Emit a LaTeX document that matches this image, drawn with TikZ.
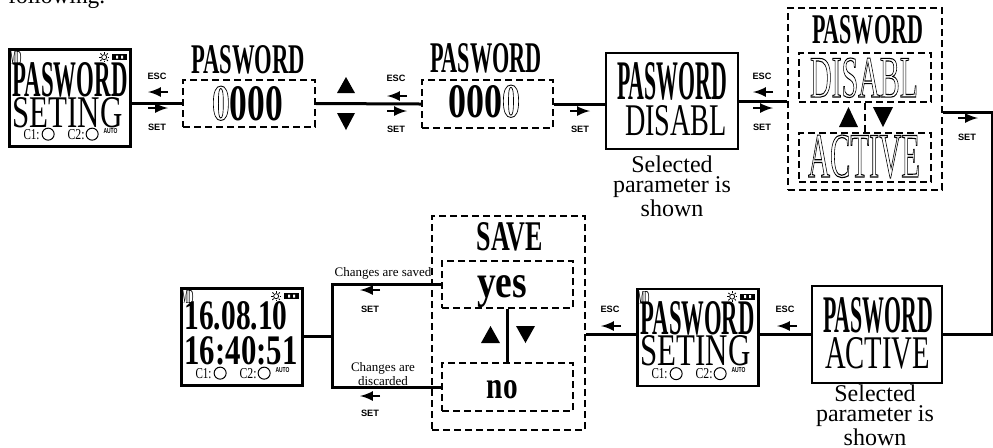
\documentclass[tikz,border=0pt]{standalone}
\usepackage{graphicx}
\usepackage{fontspec}
\setmainfont{Liberation Serif}
\newfontfamily\keyfont{Liberation Sans}
\usetikzlibrary{arrows}

\newcommand{\fitto}[3]{\resizebox{#1pt}{#2pt}{#3}}
\newcommand{\hollow}[1]{\special{pdf:literal direct 1 Tr 0.18 w}#1\special{pdf:literal direct 0 Tr}}

% lcd screen: corner icons, two text lines, bottom row
\newcommand{\lcdscreen}[5]{%
  \begin{scope}[shift={(#1.north west)}]
    \node[anchor=north west, inner sep=0pt] (#1-md) at (1,3) {\fitto{6}{6.5}{MD}};
    \draw[line width=0.4pt] (96,9) circle (2.5);
    \foreach \a in {0,45,...,315}
      \draw[line width=0.4pt] (96,9) ++(\a:3.5) -- ++(\a:1.8);
    \fill (104,6) rectangle (119,12);
    \fill[white] (108,7.5) rectangle (110,10.5) (113,7.5) rectangle (115,10.5);
    \node[anchor=base west, inner sep=0pt] (#1-a) at (4,#2) {#3};
    \node[anchor=base west, inner sep=0pt] (#1-b) at (4,#4) {#5};
    \node[anchor=base west, inner sep=0pt] (#1-c1) at (15,91) {\fitto{8}{5}{C1:}};
    \draw[line width=0.5pt] (40,86) circle (6);
    \node[anchor=base west, inner sep=0pt] (#1-c2) at (59,91) {\fitto{8.5}{5}{C2:}};
    \draw[line width=0.5pt] (84,86) circle (6);
    \node[anchor=base west, inner sep=0pt, font=\keyfont\bfseries] (#1-auto) at (95,85) {\fitto{7}{2.5}{AUTO}};
  \end{scope}}

\tikzset{
  lcd/.style={draw, line width=1.35pt, minimum width=60.5pt, minimum height=48.5pt, inner sep=0pt},
  solidbox/.style={draw, line width=0.85pt, inner sep=0pt},
  dashbox/.style={draw, dash pattern=on 3.5pt off 2pt, line width=0.85pt, inner sep=0pt},
  wire/.style={line width=1.5pt},
  keylbl/.style={font=\keyfont\bfseries\fontsize{4.6}{5}\selectfont, inner sep=0pt},
  hint/.style={-latex, line width=1.2pt},
  note/.style={align=center, font=\fontsize{12}{10.2}\selectfont, inner sep=0pt},
  smallnote/.style={align=center, font=\fontsize{6.5}{5.6}\selectfont, inner sep=0pt},
  big/.style={anchor=base, inner sep=0pt},
}

\begin{document}
\begin{tikzpicture}[x=0.5pt, y=-0.5pt]
  \useasboundingbox (0,0) rectangle (993,447);
  \node[anchor=base west, inner sep=0pt, font=\fontsize{11.7}{14}\selectfont] (intro) at (8,3) {following.};

  % top row
  \node[lcd] (lcd1) at (70,98) {};
  \lcdscreen{lcd1}{48}{\fitto{57.5}{17}{\bfseries PASWORD}}{79}{\fitto{55}{15}{SETING}}

  \node[dashbox, minimum width=66pt, minimum height=23.5pt] (pw1) at (249,103.5) {};
  \node[big] (pw1-t) at (248,73) {\fitto{57}{14}{\bfseries PASWORD}};
  \node[big] (pw1-d) at (247.5,120) {\fitto{35.5}{17}{\bfseries\hollow{0}000}};

  \node[dashbox, minimum width=65.5pt, minimum height=24pt] (pw2) at (487.5,104) {};
  \node[big] (pw2-t) at (486,72) {\fitto{56}{14.5}{\bfseries PASWORD}};
  \node[big] (pw2-d) at (484,117) {\fitto{36}{16}{\bfseries 000\hollow{0}}};

  \node[solidbox, minimum width=66pt, minimum height=48pt] (dis) at (672,101) {};
  \node[big] (dis-a) at (672,99) {\fitto{55}{18.5}{\bfseries PASWORD}};
  \node[big] (dis-b) at (676,135) {\fitto{51}{15}{DISABL}};
  \node[note, anchor=north] (dis-n) at (672,155) {Selected\\parameter is\\shown};

  \node[dashbox, minimum width=77pt, minimum height=91pt] (choose) at (865,99) {};
  \node[big] (choose-t) at (867.5,43) {\fitto{55.5}{14}{\bfseries PASWORD}};
  \node[dashbox, minimum width=66pt, minimum height=24.5pt] (dsel) at (865,77.5) {};
  \node[big] (dsel-t) at (864,97) {\fitto{54}{19.5}{\hollow{DISABL}}};
  \node[dashbox, minimum width=66pt, minimum height=24.5pt] (asel) at (865,157.5) {};
  \node[big] (asel-t) at (864,177) {\fitto{56}{21}{\hollow{ACTIVE}}};

  % bottom row
  \node[solidbox, minimum width=65pt, minimum height=48.5pt] (act) at (877,334.5) {};
  \node[big] (act-a) at (878,332) {\fitto{55}{17.5}{\bfseries PASWORD}};
  \node[big] (act-b) at (877.5,368) {\fitto{52.5}{15.5}{ACTIVE}};
  \node[note, anchor=north] (act-n) at (875,384) {Selected\\parameter is\\shown};

  \node[lcd] (lcd2) at (698,337.5) {};
  \lcdscreen{lcd2}{47}{\fitto{57}{16.5}{\bfseries PASWORD}}{78}{\fitto{55}{15}{SETING}}

  \node[dashbox, minimum width=76.5pt, minimum height=107pt] (save) at (508.5,323) {};
  \node[big] (save-t) at (510,250) {\fitto{33}{14}{\bfseries SAVE}};
  \node[dashbox, minimum width=65.5pt, minimum height=23.5pt] (yes) at (507.5,284.5) {};
  \node[big] (yes-t) at (502,297) {\fitto{25}{11}{\bfseries yes}};
  \node[dashbox, minimum width=65.5pt, minimum height=24pt] (no) at (507.5,387) {};
  \node[big] (no-t) at (502.5,398) {\fitto{15.5}{9}{\bfseries no}};

  \node[lcd] (lcd3) at (242,337) {};
  \lcdscreen{lcd3}{42}{\fitto{51.5}{14}{\bfseries 16.08.10}}{77}{\fitto{56.5}{14}{\bfseries 16:40:51}}

  \coordinate (turn) at (992,112);
  \coordinate (fork) at (332,336);

  % connectors
  \draw[wire] (lcd1.east |- pw1) -- (pw1.west);
  \draw[wire] (pw1.east) -- (pw2.west);
  \draw[wire] (pw2.east) -- (pw2.east -| dis.west);
  \draw[wire] (dis.east) -- (dis.east -| choose.west);
  \draw[wire] (choose.east |- turn) -- (turn) |- (act.east);
  \draw[wire] (act.west) -- (act.west -| lcd2.east);
  \draw[wire] (lcd2.west |- act) -- (save.east |- act);
  \draw[wire] (lcd3.east |- fork) -- (fork);
  \draw[wire] (yes.west) -| (fork) |- (no.west);
  \draw[dash pattern=on 3.5pt off 2pt, line width=0.85pt] (dsel.south) -- (asel.north);
  \draw[line width=1.3pt] (yes.south) -- (no.north);

  % up / down keys
  \fill (337,93) -- (355,93) -- (346,77) -- cycle;
  \fill (337,113) -- (355,113) -- (346,130) -- cycle;
  \fill (839,127) -- (858,127) -- (848.5,107) -- cycle;
  \fill (873,107) -- (893,107) -- (883,127) -- cycle;
  \fill (481,343) -- (500,343) -- (490.5,326) -- cycle;
  \fill (516,326) -- (535,326) -- (525.5,343) -- cycle;

  % key hints
  \node[keylbl] (esc1) at (157,76) {ESC};
  \draw[hint] (168,92) -- (148,92);
  \draw[hint] (148,108) -- (168,108);
  \node[keylbl] (set1) at (157,127) {SET};
  \node[keylbl] (esc2) at (396,78) {ESC};
  \draw[hint] (407,96) -- (387,96);
  \draw[hint] (387,111) -- (407,111);
  \node[keylbl] (set2) at (396,129) {SET};
  \draw[hint] (570,111) -- (590,111);
  \node[keylbl] (set3) at (580,129) {SET};
  \node[keylbl] (esc4) at (762,76) {ESC};
  \draw[hint] (773,92) -- (753,92);
  \draw[hint] (753,108) -- (773,108);
  \node[keylbl] (set4) at (762,127) {SET};
  \draw[hint] (958,118) -- (978,118);
  \node[keylbl] (set5) at (967,137) {SET};
  \node[keylbl] (esc6) at (785,309) {ESC};
  \draw[hint] (797,326) -- (777,326);
  \node[keylbl] (esc7) at (610,309) {ESC};
  \draw[hint] (621,326) -- (601,326);

  \node[smallnote, anchor=base] (saved) at (383,276) {Changes are saved};
  \draw[hint] (380,290) -- (360,290);
  \node[keylbl] (set8) at (370,309) {SET};
  \node[smallnote, anchor=north] (lost) at (383,362) {Changes are\\discarded};
  \draw[hint] (380,396) -- (360,396);
  \node[keylbl] (set9) at (370,413) {SET};
\end{tikzpicture}
\end{document}
